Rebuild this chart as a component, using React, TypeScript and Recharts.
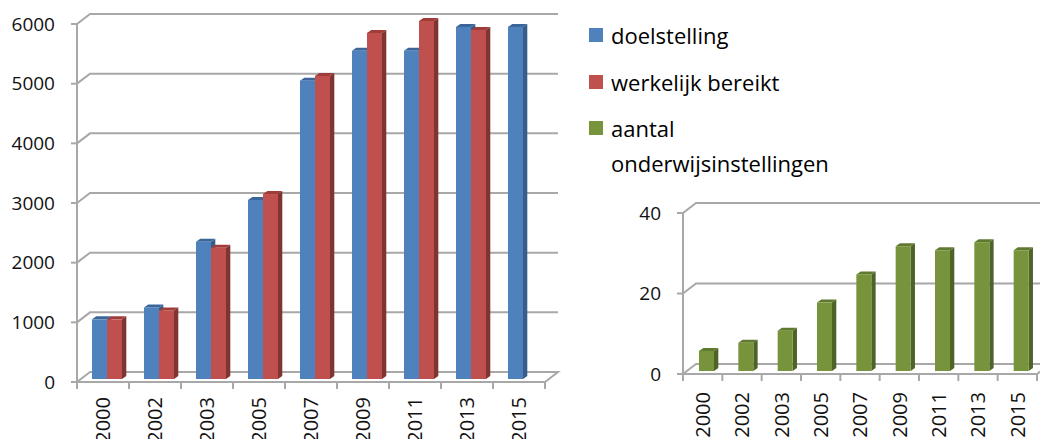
import React from 'react';
import { BarChart, Bar, XAxis, YAxis, CartesianGrid } from 'recharts';

const years = ['2000', '2002', '2003', '2005', '2007', '2009', '2011', '2013', '2015'];
const doelstelling = [1000, 1200, 2300, 3000, 5000, 5500, 5500, 5900, 5900];
const bereikt = [1000, 1150, 2200, 3100, 5080, 5800, 6000, 5850, null];
const instellingen = [5, 7, 10, 17, 24, 31, 30, 32, 30];
const leftTicks = [0, 1000, 2000, 3000, 4000, 5000, 6000];
const rightTicks = [0, 20, 40];

const mainData = years.map((year, i) => ({
  year,
  doelstelling: doelstelling[i],
  bereikt: bereikt[i],
}));
const schoolData = years.map((year, i) => ({ year, instellingen: instellingen[i] }));

const FONT = '"Open Sans", sans-serif';
const GRID = '#a8a8a8';
// back wall offset of the fake 3D look
const BACK_X = 13;
const BACK_Y = -10;

const Bar3D = (props: any) => {
  const { x, y, width, height, fill, side, top } = props;
  if (height == null || height <= 0 || y == null) return null;
  const X = x + 4;
  const Y = y - 3;
  const dx = 4.3;
  const dy = -3;
  return (
    <g>
      <polygon
        points={`${X + width},${Y} ${X + width + dx},${Y + dy} ${X + width + dx},${Y + height + dy} ${X + width},${Y + height}`}
        fill={side}
      />
      <polygon
        points={`${X},${Y} ${X + dx},${Y + dy} ${X + width + dx},${Y + dy} ${X + width},${Y}`}
        fill={top}
      />
      <rect x={X} y={Y} width={width} height={height} fill={fill} />
    </g>
  );
};

const makeGridLine = (bottom: number) => (props: any) => {
  const { x1, x2, y1 } = props;
  const pts = [
    `${x1},${y1}`,
    `${x1 + BACK_X},${y1 + BACK_Y}`,
    `${x2 + BACK_X},${y1 + BACK_Y}`,
  ];
  if (Math.abs(y1 - bottom) < 1) pts.push(`${x2},${y1}`);
  return (
    <polyline
      key={props.key ?? `g-${y1}`}
      points={pts.join(' ')}
      fill="none"
      stroke={GRID}
      strokeWidth={2}
    />
  );
};

const makeYearTick = (step: number, count: number, gap: number) => (props: any) => {
  const { x, y, payload, index } = props;
  const ty = y + gap;
  return (
    <g>
      <line x1={x - step / 2} y1={y} x2={x - step / 2} y2={y + 7} stroke={GRID} strokeWidth={2} />
      {index === count - 1 && (
        <line x1={x + step / 2} y1={y} x2={x + step / 2} y2={y + 7} stroke={GRID} strokeWidth={2} />
      )}
      <text
        x={x}
        y={ty}
        dy="0.36em"
        textAnchor="end"
        transform={`rotate(-90 ${x} ${ty})`}
        fontFamily={FONT}
        fontSize={20}
        fill="#111"
      >
        {payload.value}
      </text>
    </g>
  );
};

const legendItems = [
  { color: '#4f81bd', lines: ['doelstelling'], top: 35 },
  { color: '#c0504d', lines: ['werkelijk bereikt'], top: 82 },
  { color: '#77933c', lines: ['aantal', 'onderwijsinstellingen'], top: 128 },
];

const App = () => {
  const tickStyle = { fontFamily: FONT, fontSize: 19, fill: '#111' };
  return (
    <div
      style={{
        position: 'absolute',
        left: 0,
        top: 0,
        width: 1040,
        height: 439,
        overflow: 'hidden',
        background: '#fff',
      }}
    >
      <div style={{ position: 'absolute', left: 0, top: 0 }}>
        <BarChart
          width={570}
          height={439}
          data={mainData}
          margin={{ top: 24, right: 25, bottom: 0, left: 0 }}
          barGap={0}
        >
          <CartesianGrid vertical={false} horizontal={makeGridLine(382)} />
          <XAxis
            dataKey="year"
            height={57}
            tickSize={0}
            tickMargin={0}
            axisLine={{ stroke: GRID, strokeWidth: 2 }}
            tick={makeYearTick(468 / 9, 9, 15)}
            interval={0}
          />
          <YAxis
            width={77}
            domain={[0, 6000]}
            ticks={leftTicks}
            tick={tickStyle}
            tickSize={6}
            tickMargin={16}
            axisLine={{ stroke: GRID, strokeWidth: 2 }}
            tickLine={{ stroke: GRID, strokeWidth: 2 }}
          />
          <Bar
            dataKey="doelstelling"
            fill="#4f81bd"
            barSize={15}
            isAnimationActive={false}
            shape={(p: any) => <Bar3D {...p} side="#385d8a" top="#3c6699" />}
          />
          <Bar
            dataKey="bereikt"
            fill="#c0504d"
            barSize={15}
            isAnimationActive={false}
            shape={(p: any) => <Bar3D {...p} side="#7f3432" top="#a03c39" />}
          />
        </BarChart>
      </div>

      <div style={{ position: 'absolute', left: 600, top: 0 }}>
        <BarChart
          width={440}
          height={439}
          data={schoolData}
          margin={{ top: 213, right: 3, bottom: 0, left: 0 }}
        >
          <CartesianGrid vertical={false} horizontal={makeGridLine(374)} />
          <XAxis
            dataKey="year"
            height={65}
            tickSize={0}
            tickMargin={0}
            axisLine={{ stroke: GRID, strokeWidth: 2 }}
            tick={makeYearTick(354 / 9, 9, 18)}
            interval={0}
          />
          <YAxis
            width={83}
            domain={[0, 40]}
            ticks={rightTicks}
            tick={tickStyle}
            tickSize={6}
            tickMargin={16}
            axisLine={{ stroke: GRID, strokeWidth: 2 }}
            tickLine={{ stroke: GRID, strokeWidth: 2 }}
          />
          <Bar
            dataKey="instellingen"
            fill="#77933c"
            barSize={15}
            isAnimationActive={false}
            shape={(p: any) => <Bar3D {...p} side="#4f6228" top="#5f7a2e" />}
          />
        </BarChart>
      </div>

      {legendItems.map((item) => (
        <div key={item.lines[0]}>
          <div
            style={{
              position: 'absolute',
              left: 589,
              top: item.top - 7,
              width: 14,
              height: 14,
              background: item.color,
            }}
          />
          {item.lines.map((line, j) => (
            <div
              key={line}
              style={{
                position: 'absolute',
                left: 611,
                top: item.top - 17 + j * 35,
                height: 34,
                lineHeight: '34px',
                fontFamily: FONT,
                fontSize: 22,
                color: '#000',
                whiteSpace: 'nowrap',
              }}
            >
              {line}
            </div>
          ))}
        </div>
      ))}
    </div>
  );
};

export default App;
